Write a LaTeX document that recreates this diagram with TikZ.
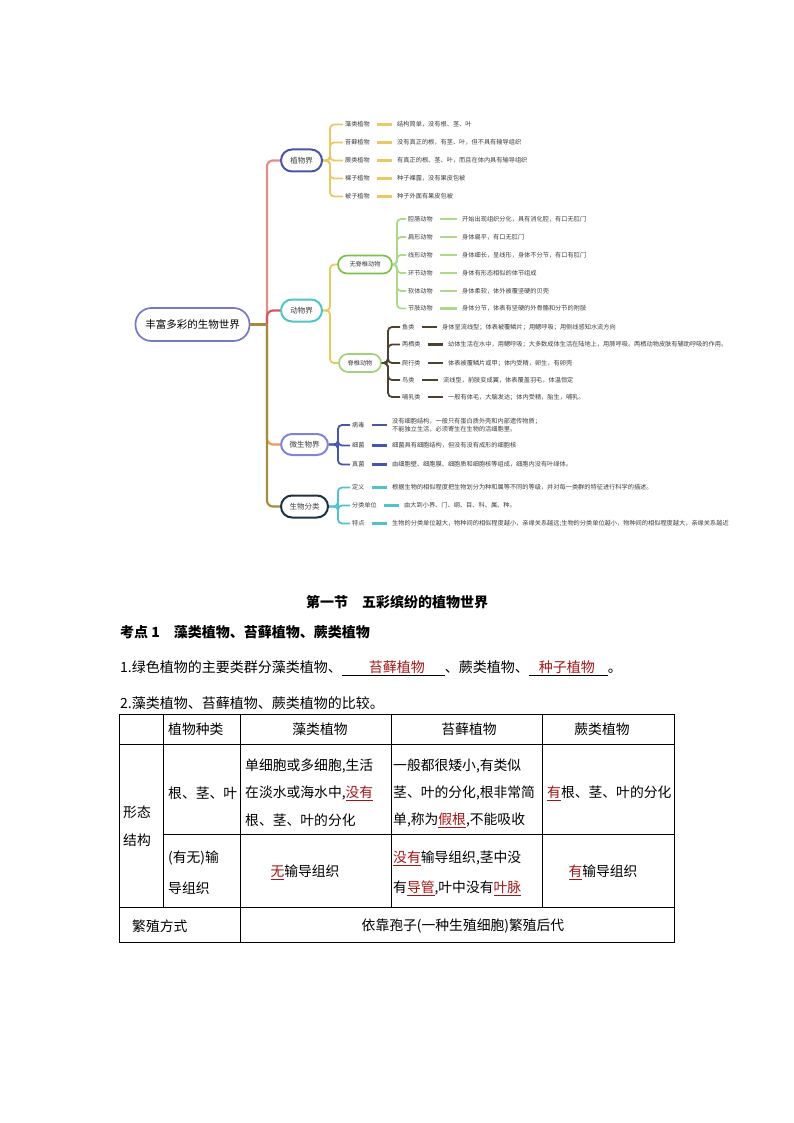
\documentclass[tikz,border=0pt]{standalone}
\usepackage{fontspec}
\setmainfont{Noto Sans CJK SC}
\usetikzlibrary{calc}
\definecolor{cRoot}{HTML}{7479C9}
\definecolor{cPlantB}{HTML}{4A55A8}
\definecolor{cAnimB}{HTML}{52C3C6}
\definecolor{cMicroB}{HTML}{8283D4}
\definecolor{cClassB}{HTML}{1F3040}
\definecolor{cPink}{HTML}{E28C8C}
\definecolor{cRed}{HTML}{D9575C}
\definecolor{cOrange}{HTML}{E89A55}
\definecolor{cOlive}{HTML}{A48C3C}
\definecolor{cPlantL}{HTML}{E9C865}
\definecolor{cAnimL}{HTML}{E6CB5A}
\definecolor{cInvB}{HTML}{7CC04A}
\definecolor{cVerB}{HTML}{9FD27A}
\definecolor{cInvL}{HTML}{ACD98A}
\definecolor{cVerL}{HTML}{4D4130}
\definecolor{cMicroL}{HTML}{4455B2}
\definecolor{cClassL}{HTML}{52C2CA}
\definecolor{ansred}{HTML}{A31515}
\definecolor{cText}{HTML}{3C3C3C}
\newcommand\fs[1]{\fontsize{#1}{#1}\selectfont}
\newcommand\ans[1]{\textcolor{ansred}{\underline{#1}}}
\newcommand\blankfill[3]{\underline{\hspace{#1}\textcolor{ansred}{#2}\hspace{#3}}}
\begin{document}
\begin{tikzpicture}[x=1pt,y=-1pt,
  rootbox/.style={draw=cRoot, line width=1.7pt, rounded corners=16pt, minimum width=114pt, minimum height=33pt, font=\fs{10.5}, inner sep=0pt, fill=white},
  lone/.style={line width=2pt, rounded corners=11pt, minimum width=41pt, minimum height=22pt, font=\fs{7.5}, inner sep=0pt, fill=white, text=cText},
  ltwo/.style={line width=1.7pt, rounded corners=9pt, minimum height=18pt, font=\fs{6.2}, inner sep=0pt, fill=white, text=cText},
  lab/.style={font=\fs{6.1}, inner sep=2pt, anchor=west, text=cText},
  desc/.style={font=\fs{6.2}, inner sep=2pt, anchor=west, text=cText, align=left},
  trunk/.style={line width=2.2pt, rounded corners=6pt},
  conn/.style={line width=1.8pt, rounded corners=4pt},
  dashl/.style={line width=2.2pt, shorten <=5pt, shorten >=3pt},
  tbl/.style={line width=0.8pt, black},
  tx/.style={font=\fs{13.8}, inner sep=0pt, anchor=west},
  txc/.style={font=\fs{13.8}, inner sep=0pt}
]
\useasboundingbox (0,0) rectangle (794,1123);

% ---------- mind map ----------
\node[rootbox] (root) at (192.5,324.5) {丰富多彩的生物世界};
\coordinate (J) at (267,324.5);
\node[lone, draw=cPlantB] (plant) at (301.5,160.5) {植物界};
\node[lone, draw=cAnimB] (animal) at (301.5,310.5) {动物界};
\node[lone, draw=cMicroB, minimum width=47pt, minimum height=21pt] (micro) at (304.5,444.5) {微生物界};
\node[lone, draw=cClassB, minimum width=47pt] (cls) at (304.5,506.5) {生物分类};

\draw[trunk, cOlive] (root.east) -- (J);
\draw[trunk, cPink] (J) |- (plant.west);
\draw[trunk, cRed] (J) |- (animal.west);
\draw[trunk, cOrange] (J) |- (micro.west);
\draw[trunk, cOlive] (J) |- (cls.west);

% plant kingdom
\coordinate (pB) at (330,160.5);
\foreach \i/\y/\l/\d in {
  1/124.5/藻类植物/结构简单，没有根、茎、叶,
  2/142.5/苔藓植物/没有真正的根，有茎、叶，但不具有输导组织,
  3/160.5/蕨类植物/有真正的根、茎、叶，而且在体内具有输导组织,
  4/178.5/裸子植物/种子裸露，没有果皮包被,
  5/196.5/被子植物/种子外面有果皮包被}{
  \node[lab] (p\i) at (343,\y) {\l};
  \node[desc] (pd\i) at (395,\y) {\d};
  \draw[conn, cPlantL] (plant.east) -- (pB) |- (p\i.west);
  \draw[dashl, cPlantL] (p\i) -- (pd\i);
}

% animal kingdom
\coordinate (aB) at (330,310.5);
\node[ltwo, draw=cInvB, minimum width=54pt] (inv) at (365,264.5) {无脊椎动物};
\node[ltwo, draw=cVerB, minimum width=42pt] (ver) at (360,363) {脊椎动物};
\draw[conn, cAnimL] (animal.east) -- (aB) |- (inv.west);
\draw[conn, cAnimL] (animal.east) -- (aB) |- (ver.west);

\coordinate (iB) at (397,264.5);
\foreach \i/\y/\l/\d in {
  1/219/腔肠动物/开始出现组织分化，具有消化腔，有口无肛门,
  2/237/扁形动物/身体扁平，有口无肛门,
  3/255/线形动物/身体细长，呈线形，身体不分节，有口有肛门,
  4/273/环节动物/身体有形态相似的体节组成,
  5/291/软体动物/身体柔软，体外被覆坚硬的贝壳,
  6/308.5/节肢动物/身体分节，体表有坚硬的外骨骼和分节的附肢}{
  \node[lab] (i\i) at (406,\y) {\l};
  \node[desc] (id\i) at (460,\y) {\d};
  \draw[conn, cInvL] (inv.east) -- (iB) |- (i\i.west);
  \draw[dashl, cInvL] (i\i) -- (id\i);
}

\coordinate (vB) at (388,363);
\foreach \i/\y/\l/\dx/\d in {
  1/327/鱼类/440/身体呈流线型；体表被覆鳞片；用鳃呼吸；用侧线感知水流方向,
  2/344.5/两栖类/446/幼体生活在水中，用鳃呼吸；大多数成体生活在陆地上，用肺呼吸。两栖动物皮肤有辅助呼吸的作用。,
  3/363/爬行类/446/体表被覆鳞片或甲；体内受精，卵生，有卵壳,
  4/380/鸟类/441/流线型，前肢变成翼，体表覆盖羽毛，体温恒定,
  5/397/哺乳类/446/一般有体毛，大脑发达；体内受精，胎生，哺乳。}{
  \node[lab] (v\i) at (400,\y) {\l};
  \node[desc] (vd\i) at (\dx,\y) {\d};
  \draw[conn, cVerL] (ver.east) -- (vB) |- (v\i.west);
  \draw[dashl, cVerL] (v\i) -- (vd\i);
}

% microorganisms
\coordinate (mB) at (338,444.5);
\node[lab] (m1) at (350,425) {病毒};
\node[desc, font=\fontsize{6.2}{8.3}\selectfont] (md1) at (390,425) {没有细胞结构，一般只有蛋白质外壳和内部遗传物质；\\不能独立生活，必须寄生在生物的活细胞里。};
\node[lab] (m2) at (350,445.5) {细菌};
\node[desc] (md2) at (390,445.5) {细菌具有细胞结构，但没有没有成形的细胞核};
\node[lab] (m3) at (350,464.5) {真菌};
\node[desc] (md3) at (390,464.5) {由细胞壁、细胞膜、细胞质和细胞核等组成，细胞内没有叶绿体。};
\foreach \i in {1,2,3}{
  \draw[conn, cMicroL] (micro.east) -- (mB) |- (m\i.west);
  \draw[dashl, cMicroL] (m\i) -- (md\i);
}

% classification
\coordinate (cB) at (338,506.5);
\node[lab] (c1) at (350,487.5) {定义};
\node[desc] (cd1) at (390,487.5) {根据生物的相似程度把生物划分为种和属等不同的等级，并对每一类群的特征进行科学的描述。};
\node[lab] (c2) at (350,505.5) {分类单位};
\node[desc] (cd2) at (402,505.5) {由大到小界、门、纲、目、科、属、种。};
\node[lab] (c3) at (350,523.5) {特点};
\node[desc] (cd3) at (390,523.5) {生物的分类单位越大，物种间的相似程度越小，亲缘关系越远;生物的分类单位越小，物种间的相似程度越大，亲缘关系越近};
\foreach \i in {1,2,3}{
  \draw[conn, cClassL] (cls.east) -- (cB) |- (c\i.west);
  \draw[dashl, cClassL] (c\i) -- (cd\i);
}

% ---------- text section ----------
\node[font=\fs{14}\bfseries, inner sep=0pt] (title) at (397,602) {第一节　五彩缤纷的植物世界};
\node[font=\fs{14}\bfseries, inner sep=0pt, anchor=west] (kd) at (120,632) {考点 1　藻类植物、苔藓植物、蕨类植物};
\node[font=\fs{14}, inner sep=0pt, anchor=west] (q1) at (120,668) {1.绿色植物的主要类群分藻类植物、\blankfill{27pt}{苔藓植物}{20pt}、蕨类植物、\blankfill{10pt}{种子植物}{13pt}。};
\node[font=\fs{14}, inner sep=0pt, anchor=west] (q2) at (120,703) {2.藻类植物、苔藓植物、蕨类植物的比较。};

% ---------- table ----------
\draw[tbl] (119,714) rectangle (674,942);
\draw[tbl] (163,714) -- (163,907);
\draw[tbl] (240,714) -- (240,942);
\draw[tbl] (391,714) -- (391,907);
\draw[tbl] (542,714) -- (542,907);
\draw[tbl] (119,744) -- (674,744);
\draw[tbl] (163,834) -- (674,834);
\draw[tbl] (119,907) -- (674,907);

\node[tx] (h1) at (168,729) {植物种类};
\node[txc] (h2) at (320,729) {藻类植物};
\node[txc] (h3) at (469,729) {苔藓植物};
\node[txc] (h4) at (602,729) {蕨类植物};

\node[tx] (s1) at (123,812) {形态};
\node[tx] (s2) at (123,840) {结构};

\node[tx] (r1) at (168,793) {根、茎、叶};
\node[tx] (a1) at (245,766) {单细胞或多细胞,生活};
\node[tx] (a2) at (245,793) {在淡水或海水中,\ans{没有}};
\node[tx] (a3) at (245,820) {根、茎、叶的分化};
\node[tx] (b1) at (393,766) {一般都很矮小,有类似};
\node[tx] (b2) at (393,793) {茎、叶的分化,根非常简};
\node[tx] (b3) at (393,820) {单,称为\ans{假根},不能吸收};
\node[tx] (f1) at (547,793) {\ans{有}根、茎、叶的分化};

\node[tx] (r2a) at (168,858) {(有无)输};
\node[tx] (r2b) at (168,888) {导组织};
\node[txc] (a4) at (305,872) {\ans{无}输导组织};
\node[tx] (b4) at (393,858) {\ans{没有}输导组织,茎中没};
\node[tx] (b5) at (393,888) {有\ans{导管},叶中没有\ans{叶脉}};
\node[txc] (f2) at (603,872) {\ans{有}输导组织};

\node[tx] (r3) at (132,926) {繁殖方式};
\node[txc] (rep) at (463,926) {依靠孢子(一种生殖细胞)繁殖后代};
\end{tikzpicture}
\end{document}
